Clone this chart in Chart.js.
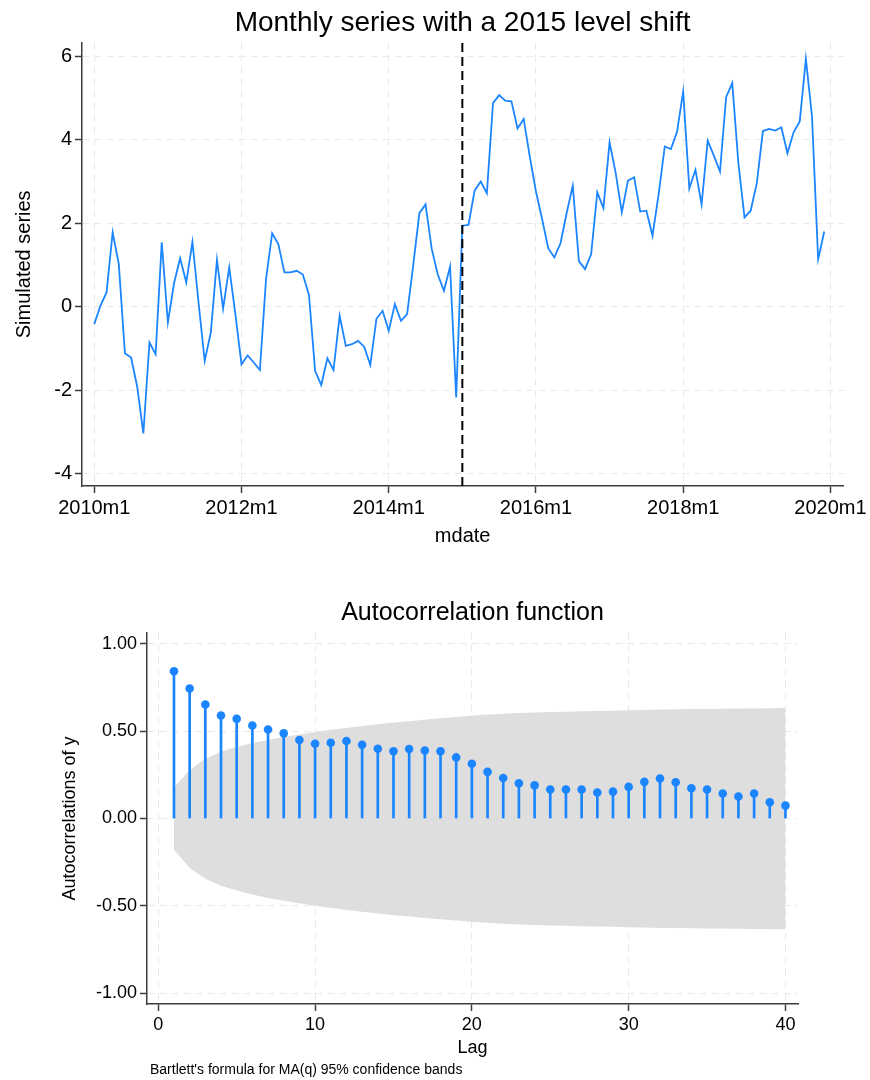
<!DOCTYPE html>
<html>
<head>
<meta charset="utf-8">
<script src="https://cdn.jsdelivr.net/npm/chart.js@4.4.1/dist/chart.umd.min.js"></script>
<style>
  body { margin: 0; background: #fff; width: 870px; height: 1080px; position: relative; overflow: hidden; }
  canvas { position: absolute; left: 0; }
  #top { top: 0; }
  #acf { top: 585px; }
  #note { position: absolute; left: 150px; top: 1061px; font: 14px "Liberation Sans", Arial, sans-serif; color: #000; }
</style>
</head>
<body>
<canvas id="top" width="870" height="560"></canvas>
<canvas id="acf" width="870" height="495"></canvas>
<div id="note">Bartlett's formula for MA(q) 95% confidence bands</div>
<script>
// monthly series, 2010m1 .. 2019m12 (month index 0..119)
const series = [
  -0.42, 0.02, 0.34, 1.78, 1.02, -1.12, -1.22, -1.92, -3.04, -0.86,
  -1.14, 1.54, -0.38, 0.56, 1.16, 0.58, 1.55, 0.10, -1.30, -0.62,
  1.12, -0.05, 0.94, -0.18, -1.38, -1.17, -1.34, -1.52, 0.66, 1.76,
  1.50, 0.82, 0.82, 0.86, 0.77, 0.28, -1.54, -1.88, -1.24, -1.52,
  -0.22, -0.94, -0.90, -0.82, -0.96, -1.40, -0.29, -0.10, -0.58, 0.06,
  -0.34, -0.18, 1.00, 2.24, 2.45, 1.39, 0.77, 0.38, 0.96, -2.18,
  1.94, 1.96, 2.78, 3.00, 2.72, 4.88, 5.07, 4.94, 4.92, 4.27,
  4.50, 3.59, 2.76, 2.10, 1.40, 1.18, 1.52, 2.24, 2.90, 1.09,
  0.90, 1.26, 2.74, 2.36, 3.94, 3.20, 2.26, 3.02, 3.10, 2.28,
  2.30, 1.70, 2.70, 3.84, 3.78, 4.19, 5.16, 2.83, 3.28, 2.45,
  3.98, 3.62, 3.24, 5.02, 5.36, 3.44, 2.14, 2.30, 2.96, 4.21,
  4.26, 4.22, 4.30, 3.68, 4.18, 4.44, 5.94, 4.56, 1.14, 1.80
];
const shiftMonth = 60; // 2015m1
const dateTicks = [0, 24, 48, 72, 96, 120];
const dateTickLabels = ['2010m1', '2012m1', '2014m1', '2016m1', '2018m1', '2020m1'];
const seriesTicks = [-4, -2, 0, 2, 4, 6];

// autocorrelations, lags 1..40
const lags = [];
for (let k = 1; k <= 40; k++) lags.push(k);
const acf = [
  0.844, 0.745, 0.653, 0.590, 0.571, 0.533, 0.510, 0.488, 0.450, 0.428,
  0.434, 0.444, 0.423, 0.400, 0.385, 0.398, 0.390, 0.385, 0.350, 0.314,
  0.267, 0.232, 0.202, 0.190, 0.166, 0.166, 0.166, 0.149, 0.154, 0.181,
  0.210, 0.229, 0.208, 0.173, 0.166, 0.143, 0.126, 0.143, 0.093, 0.074
];
const bandHi = [
  0.178, 0.278, 0.343, 0.383, 0.411, 0.432, 0.450, 0.467, 0.481, 0.495,
  0.508, 0.519, 0.530, 0.540, 0.550, 0.558, 0.566, 0.574, 0.582, 0.590,
  0.596, 0.600, 0.604, 0.607, 0.610, 0.612, 0.614, 0.616, 0.618, 0.620,
  0.622, 0.624, 0.626, 0.627, 0.628, 0.629, 0.630, 0.631, 0.632, 0.633
];
const bandLo = [
  -0.180, -0.282, -0.345, -0.385, -0.413, -0.435, -0.455, -0.471, -0.486, -0.500,
  -0.513, -0.524, -0.535, -0.545, -0.554, -0.562, -0.570, -0.578, -0.585, -0.592,
  -0.598, -0.603, -0.607, -0.610, -0.613, -0.615, -0.617, -0.619, -0.621, -0.623,
  -0.625, -0.627, -0.628, -0.629, -0.630, -0.631, -0.632, -0.633, -0.634, -0.635
];
const lagTicks = [0, 10, 20, 30, 40];
const acfTicks = [-1, -0.5, 0, 0.5, 1];

const FONT = '"Liberation Sans", Arial, Helvetica, sans-serif';
const BLUE = '#1a85ff';
const AXIS = '#3c3c3c';
const GRID = '#e9e9e9';

Chart.defaults.font.family = FONT;
Chart.defaults.color = '#000';

function setTicks(values) {
  return function (scale) { scale.ticks = values.map(v => ({ value: v })); };
}
function axisOpts(extra) {
  return Object.assign({
    type: 'linear',
    offset: false,
    grid: { color: GRID, lineWidth: 1, drawTicks: true, tickLength: 7, tickColor: AXIS, tickWidth: 1.5, offset: false },
    border: { display: true, color: AXIS, width: 1.5, dash: [7, 5] }
  }, extra);
}

// ---- top chart: monthly series ----
const yMin = -4.3, yMax = 6.33;
new Chart(document.getElementById('top'), {
  type: 'line',
  data: {
    datasets: [
      {
        data: [{ x: shiftMonth, y: yMin }, { x: shiftMonth, y: yMax }],
        borderColor: '#000', borderWidth: 2, borderDash: [9, 5],
        pointRadius: 0, order: 0
      },
      {
        data: series.map((v, i) => ({ x: i, y: v })),
        borderColor: BLUE, borderWidth: 1.8, pointRadius: 0, tension: 0, order: 1
      }
    ]
  },
  options: {
    responsive: false, animation: false, devicePixelRatio: 1,
    layout: { padding: { left: 0, right: 24, top: 0, bottom: 0 } },
    plugins: {
      legend: { display: false }, tooltip: { enabled: false },
      title: { display: true, fullSize: false, text: 'Monthly series with a 2015 level shift', color: '#000',
        font: { size: 28, weight: 'normal' }, padding: { top: 6, bottom: 3 } }
    },
    scales: {
      x: axisOpts({
        min: -2, max: 122.1,
        afterBuildTicks: setTicks(dateTicks),
        afterFit: s => { s.height = 74; },
        ticks: { font: { size: 20 }, color: '#000', padding: 3, maxRotation: 0,
          callback: v => dateTickLabels[dateTicks.indexOf(v)] },
        title: { display: true, text: 'mdate', font: { size: 20 }, color: '#000', padding: { bottom: 12 } }
      }),
      y: axisOpts({
        min: yMin, max: yMax,
        afterBuildTicks: setTicks(seriesTicks),
        afterFit: s => { s.width = 82; },
        ticks: { font: { size: 20 }, color: '#000', padding: 3, callback: v => String(v) },
        title: { display: true, text: 'Simulated series', font: { size: 20 }, color: '#000', padding: { top: 12 } }
      })
    }
  }
});

// ---- bottom chart: autocorrelation function ----
new Chart(document.getElementById('acf'), {
  type: 'scatter',
  data: {
    datasets: [
      {
        type: 'scatter',
        data: lags.map((k, i) => ({ x: k, y: acf[i] })),
        backgroundColor: BLUE, borderColor: BLUE, pointRadius: 4.3, pointBorderWidth: 0, order: 0
      },
      {
        type: 'bar',
        data: lags.map((k, i) => ({ x: k, y: acf[i] })),
        backgroundColor: BLUE, barThickness: 2, borderWidth: 0, order: 1
      },
      {
        type: 'line',
        data: lags.map((k, i) => ({ x: k, y: bandHi[i] })),
        borderWidth: 0, pointRadius: 0, tension: 0, fill: '+1',
        backgroundColor: '#dedede', borderColor: 'rgba(0,0,0,0)', order: 2
      },
      {
        type: 'line',
        data: lags.map((k, i) => ({ x: k, y: bandLo[i] })),
        borderWidth: 0, pointRadius: 0, tension: 0, fill: false,
        backgroundColor: '#dedede', borderColor: 'rgba(0,0,0,0)', order: 3
      }
    ]
  },
  options: {
    responsive: false, animation: false, devicePixelRatio: 1,
    layout: { padding: { left: 0, right: 72, top: 0, bottom: 16 } },
    plugins: {
      legend: { display: false }, tooltip: { enabled: false },
      title: { display: true, fullSize: false, text: 'Autocorrelation function', color: '#000',
        font: { size: 25, weight: 'normal' }, padding: { top: 13, bottom: 5 } }
    },
    scales: {
      x: axisOpts({
        min: -0.72, max: 40.8,
        afterBuildTicks: setTicks(lagTicks),
        afterFit: s => { s.height = 60; },
        ticks: { font: { size: 18 }, color: '#000', padding: 3, maxRotation: 0 },
        title: { display: true, text: 'Lag', font: { size: 18 }, color: '#000', padding: { bottom: 5 } }
      }),
      y: axisOpts({
        min: -1.063, max: 1.063,
        afterBuildTicks: setTicks(acfTicks),
        afterFit: s => { s.width = 147; },
        ticks: { font: { size: 18 }, color: '#000', padding: 3, callback: v => v.toFixed(2) },
        title: { display: true, text: 'Autocorrelations of y', font: { size: 18 }, color: '#000', padding: { top: 59 } }
      })
    }
  }
});
</script>
</body>
</html>
